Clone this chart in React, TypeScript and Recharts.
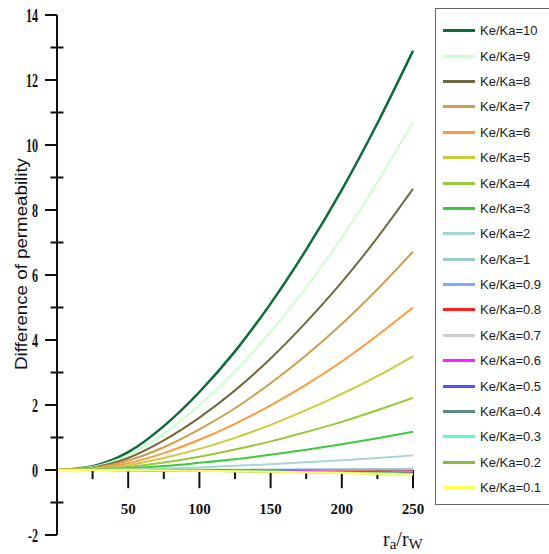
import { LineChart, Line, YAxis, XAxis, ReferenceLine, ReferenceDot } from 'recharts';

const xValues = [0, 25, 50, 75, 100, 125, 150, 175, 200, 225, 250];

const k10 = [0, 0.12, 0.55, 1.35, 2.4, 3.65, 5.12, 6.78, 8.62, 10.67, 12.9];
const k9 = [0, 0.1, 0.46, 1.12, 1.99, 3.03, 4.25, 5.62, 7.15, 8.85, 10.7];
const k8 = [0, 0.08, 0.37, 0.91, 1.61, 2.45, 3.43, 4.55, 5.78, 7.15, 8.65];
const k7 = [0, 0.06, 0.29, 0.7, 1.25, 1.9, 2.67, 3.53, 4.49, 5.56, 6.72];
const k6 = [0, 0.05, 0.21, 0.52, 0.93, 1.42, 1.99, 2.63, 3.34, 4.14, 5.0];
const k5 = [0, 0.03, 0.15, 0.37, 0.65, 0.99, 1.39, 1.84, 2.34, 2.89, 3.5];
const k4 = [0, 0.02, 0.09, 0.23, 0.41, 0.63, 0.88, 1.17, 1.48, 1.84, 2.22];
const k3 = [0, 0.01, 0.05, 0.12, 0.22, 0.33, 0.47, 0.62, 0.79, 0.98, 1.18];
const k2 = [0, 0.005, 0.02, 0.05, 0.08, 0.13, 0.18, 0.24, 0.3, 0.37, 0.45];
const k1 = [0, 0, 0, 0.005, 0.01, 0.01, 0.015, 0.02, 0.025, 0.03, 0.035];
const k09 = [0, 0, 0, 0, 0, -0.005, -0.01, -0.01, -0.015, -0.015, -0.02];
const k08 = [0, 0, 0, -0.005, -0.01, -0.01, -0.015, -0.02, -0.025, -0.035, -0.04];
const k07 = [0, 0, 0, -0.005, -0.01, -0.015, -0.025, -0.03, -0.04, -0.05, -0.06];
const k06 = [0, 0, 0, -0.01, -0.015, -0.02, -0.03, -0.04, -0.055, -0.065, -0.08];
const k05 = [0, 0, 0, -0.01, -0.02, -0.03, -0.04, -0.05, -0.07, -0.08, -0.1];
const k04 = [0, 0, -0.005, -0.01, -0.02, -0.03, -0.045, -0.06, -0.075, -0.09, -0.11];
const k03 = [0, 0, -0.005, -0.01, -0.02, -0.035, -0.05, -0.065, -0.08, -0.1, -0.12];
const k02 = [0, 0, -0.005, -0.015, -0.025, -0.035, -0.05, -0.07, -0.09, -0.11, -0.13];
const k01 = [0, 0, -0.005, -0.015, -0.025, -0.04, -0.055, -0.075, -0.095, -0.115, -0.14];

const seriesNames = [
  'Ke/Ka=10', 'Ke/Ka=9', 'Ke/Ka=8', 'Ke/Ka=7', 'Ke/Ka=6', 'Ke/Ka=5', 'Ke/Ka=4',
  'Ke/Ka=3', 'Ke/Ka=2', 'Ke/Ka=1', 'Ke/Ka=0.9', 'Ke/Ka=0.8', 'Ke/Ka=0.7',
  'Ke/Ka=0.6', 'Ke/Ka=0.5', 'Ke/Ka=0.4', 'Ke/Ka=0.3', 'Ke/Ka=0.2', 'Ke/Ka=0.1',
];
const seriesValues = [k10, k9, k8, k7, k6, k5, k4, k3, k2, k1, k09, k08, k07, k06, k05, k04, k03, k02, k01];
const seriesColors = [
  '#0e6b3a', '#ccffcc', '#6e6b40', '#cc9f50', '#ff9a3c', '#cccc3a', '#99c83a',
  '#3acc3a', '#a8d4d4', '#99cccc', '#7fa8ff', '#ff2020', '#cccccc',
  '#ff20ff', '#5050ff', '#5a8a88', '#55ffcc', '#88bb44', '#ffff55',
];

const yTicks = [-2, -1, 0, 1, 2, 3, 4, 5, 6, 7, 8, 9, 10, 11, 12, 13, 14];
const xMajorTicks = [50, 100, 150, 200, 250];
const xMinorTicks = [25, 75, 125, 175, 225];

const data = xValues.map((x, i) => {
  const row: Record<string, number> = { x };
  seriesValues.forEach((s, j) => { row['s' + j] = s[i]; });
  return row;
});

function YTick(props: any) {
  const { x, y, payload } = props;
  const v = payload.value;
  if (v % 2 !== 0) {
    return <line x1={x - 6.5} x2={x + 6.5} y1={y} y2={y} stroke="#111" strokeWidth={2} />;
  }
  return (
    <g>
      <line x1={x - 12} x2={x} y1={y} y2={y} stroke="#111" strokeWidth={2} />
      <text
        transform={`translate(${x - 19},${y + 6.5}) scale(0.62,1)`}
        textAnchor="end"
        fontFamily="Liberation Serif"
        fontWeight="bold"
        fontSize={19.5}
        fill="#111"
      >
        {v}
      </text>
    </g>
  );
}

export default function App() {
  return (
    <div style={{ position: 'absolute', left: 0, top: 0, width: 549, height: 554, overflow: 'hidden', background: '#fff' }}>
      <LineChart width={549} height={554} data={data} margin={{ top: 15, right: 136, bottom: 19, left: 0 }}>
        <XAxis dataKey="x" type="number" domain={[0, 250]} hide />
        <YAxis
          width={57}
          domain={[-2, 14]}
          ticks={yTicks}
          interval={0}
          tickSize={0}
          tickMargin={0}
          tickLine={false}
          axisLine={{ stroke: '#111', strokeWidth: 2 }}
          tick={<YTick />}
        />
        {xMajorTicks.map((v) => (
          <ReferenceLine key={'M' + v} segment={[{ x: v, y: 0 }, { x: v, y: -0.56 }]} stroke="#111" strokeWidth={2} ifOverflow="visible" />
        ))}
        {xMinorTicks.map((v) => (
          <ReferenceLine key={'m' + v} segment={[{ x: v, y: 0 }, { x: v, y: -0.28 }]} stroke="#111" strokeWidth={2} ifOverflow="visible" />
        ))}
        {xMajorTicks.map((v) => (
          <ReferenceDot
            key={'L' + v}
            x={v}
            y={-1.2}
            r={0}
            fill="none"
            stroke="none"
            ifOverflow="visible"
            label={{ value: String(v), position: 'center', fill: '#111', fontSize: 15, fontWeight: 'bold', fontFamily: 'Liberation Serif' }}
          />
        ))}
        {seriesValues.map((_, j) => (
          <Line
            key={j}
            type="monotone"
            dataKey={'s' + j}
            name={seriesNames[j]}
            stroke={seriesColors[j]}
            strokeWidth={j === 0 ? 2.5 : 2}
            dot={false}
            isAnimationActive={false}
          />
        ))}
      </LineChart>

      <div
        style={{
          position: 'absolute', left: 21.5, top: 264, transform: 'translate(-50%, -50%) rotate(-90deg) scaleX(1.17)',
          fontFamily: 'Liberation Sans', fontSize: 16, color: '#111', whiteSpace: 'nowrap', lineHeight: '16px',
        }}
      >
        Difference of permeability
      </div>

      <div style={{ position: 'absolute', left: 383, top: 528, fontFamily: 'Liberation Serif', fontSize: 20, color: '#111', whiteSpace: 'nowrap' }}>
        r<sub style={{ fontSize: 15, verticalAlign: '-3px' }}>a</sub>/r<sub style={{ fontSize: 15, verticalAlign: '-3px' }}>W</sub>
      </div>

      <div
        style={{
          position: 'absolute', left: 435, top: 8, width: 120, height: 497, border: '1.5px solid #666',
          boxSizing: 'border-box', paddingTop: 9, background: '#fff',
        }}
      >
        {seriesNames.map((n, j) => (
          <div key={n} style={{ display: 'flex', alignItems: 'center', height: 25.4 }}>
            <div style={{ marginLeft: 7, width: 32, height: j === 0 ? 3.5 : 3, background: seriesColors[j] }} />
            <span style={{ marginLeft: 5, fontFamily: 'Liberation Sans', fontSize: 13, color: '#222' }}>{n}</span>
          </div>
        ))}
      </div>
    </div>
  );
}
